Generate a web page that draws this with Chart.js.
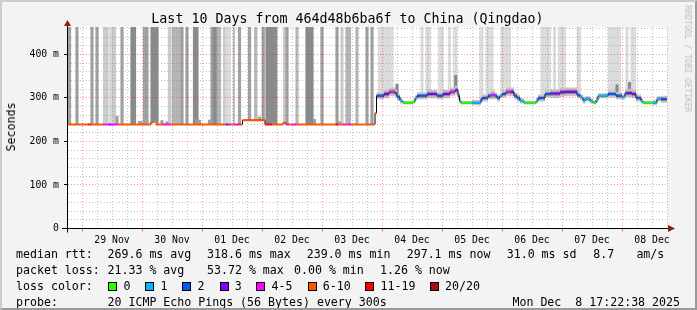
<!DOCTYPE html>
<html>
<head>
<meta charset="utf-8">
<script src="https://cdn.jsdelivr.net/npm/chart.js@4.4.1/dist/chart.umd.min.js"></script>
<style>
  body { margin: 0; background: #f3f3f3; }
  #wrap { position: relative; width: 697px; height: 310px; background: #f3f3f3; font-family: 'DejaVu Sans Mono', monospace; color: #000; overflow: hidden; }
  #wrap canvas { position: absolute; left: 0; top: 0; }
  #frame { position: absolute; left: 0; top: 0; width: 697px; height: 310px; box-sizing: border-box; border: 2px solid; border-color: #cccccc #999999 #999999 #cccccc; pointer-events: none; }
  .t { position: absolute; white-space: pre; font-size: 11.6px; line-height: 14px; }
  .box { position: absolute; width: 7px; height: 7px; border: 1px solid #000; }
  #title { position: absolute; left: -1px; width: 697px; top: 11px; text-align: center; font-size: 13.3px; line-height: 15px; white-space: pre; }
  #ylabel { position: absolute; left: 11px; top: 127px; transform: translate(-50%, -50%) rotate(-90deg); font-size: 11.6px; white-space: pre; }
  #rrd { position: absolute; left: 688px; top: 59px; transform: translate(-50%, -50%) rotate(90deg); font-size: 8.1px; color: #bdbdbd; white-space: pre; }
</style>
</head>
<body>
<div id="wrap">
  <canvas id="smokeChart" width="697" height="310"></canvas>
  <div id="title">Last 10 Days from 464d48b6ba6f to China (Qingdao)</div>
  <div id="ylabel">Seconds</div>
  <div id="rrd">RRDTOOL / TOBI OETIKER</div>

  <div class="t" style="left:16px;top:247px">median rtt:</div>
  <div class="t" style="left:107.5px;top:247px">269.6 ms avg</div>
  <div class="t" style="left:207px;top:247px">318.6 ms max</div>
  <div class="t" style="left:306.7px;top:247px">239.0 ms min</div>
  <div class="t" style="left:406.7px;top:247px">297.1 ms now</div>
  <div class="t" style="left:506.7px;top:247px">31.0 ms sd</div>
  <div class="t" style="left:593.3px;top:247px">8.7</div>
  <div class="t" style="left:636.4px;top:247px">am/s</div>

  <div class="t" style="left:16px;top:263px">packet loss:</div>
  <div class="t" style="left:107.5px;top:263px">21.33 % avg</div>
  <div class="t" style="left:207px;top:263px">53.72 % max</div>
  <div class="t" style="left:294px;top:263px">0.00 % min</div>
  <div class="t" style="left:380px;top:263px">1.26 % now</div>

  <div class="t" style="left:16px;top:279px">loss color:</div>
  <div id="lossLegend"></div>

  <div class="t" style="left:16px;top:295px">probe:</div>
  <div class="t" style="left:107.5px;top:295px">20 ICMP Echo Pings (56 Bytes) every 300s</div>
  <div class="t" style="right:17px;top:295px">Mon Dec  8 17:22:38 2025</div>
  <div id="frame"></div>
</div>
<script>
// --- eixo e rótulos ---
const yMax = 463;                 // topo do gráfico em ms
const dayLabels = ['29 Nov', '30 Nov', '01 Dec', '02 Dec', '03 Dec', '04 Dec', '05 Dec', '06 Dec', '07 Dec', '08 Dec'];
const lossLabels = ['0', '1', '2', '3', '4-5', '6-10', '11-19', '20/20'];
const lossColors = ['#26ff00', '#00b8ff', '#0059ff', '#7e00ff', '#ff00ff', '#ff5500', '#ff0000', '#a01010'];

// --- mediana (horas desde 28 Nov 18:00, ms, pings perdidos de 20, largura da fumaça em ms) ---
const medHour = [0, 8.4, 9.6, 14.4, 16.8, 17.6, 20.4, 33.6, 34.8, 35.6, 38.4, 41.2, 63.6, 64.6, 65.6, 66.8, 68, 68.6, 69.4, 70.2,
  79.2, 82, 86.4, 87.6, 88.8, 90, 91.6, 107.6, 108.4, 110.4, 111.6, 112.4, 113.6, 123.2, 123.8, 126.8, 128.8, 131.2, 132, 133.2,
  134.4, 138.4, 139.2, 140, 144, 148, 150.4, 153.2, 155.2, 156.4, 157, 157.6, 162, 165.6, 166.4, 168.4, 169.6, 171.2, 172, 173.2,
  174, 175.6, 177.6, 178.8, 180, 181.2, 182.8, 187.6, 188.4, 191.2, 193.2, 197.2, 199.2, 204, 205.2, 206.4, 207.2, 209.2, 210.4, 211.6,
  212.4, 216.4, 219.6, 222, 223.2, 224, 226, 227.6, 229.6, 230.4, 234.4, 236, 237.6, 240];
const medRtt = [239, 239, 239, 239, 239, 239, 239, 244, null, 239, 239, 239, 239, 239, 239, 239, 239, 239, 239, 249,
  239, 239, 243, 239, 239, 239, 239, 239, 239, 239, 239, 239, 239, 265, 305, 309, 314, 311, 302, 293,
  289, 291, 300, 305, 309, 305, 309, 314, 318, 305, 293, 289, 289, 298, 300, 305, 307, 305, 300, 305,
  309, 314, 314, 305, 300, 293, 289, 293, 300, 309, 310, 313, 314, 307, 302, 293, 298, 293, 289, 295,
  305, 309, 305, 302, 311, 311, 309, 300, 293, 289, 289, 298, 297, 297];
const medLoss = [8, 12, 8, 5, 3, 5, 8, 8, 8, 8, 5, 8, 3, 5, 8, 5, 12, 5, 8, 8,
  12, 8, 8, 5, 8, 5, 8, 12, 8, 5, 8, 5, 8, 8, 2, 3, 5, 2, 2, 1,
  0, 0, 1, 2, 3, 2, 3, 5, 3, 2, 1, 0, 1, 2, 2, 2, 5, 2, 2, 1,
  2, 5, 3, 2, 2, 1, 0, 1, 2, 2, 3, 3, 3, 2, 1, 1, 1, 1, 0, 1,
  1, 2, 2, 1, 2, 3, 3, 2, 1, 0, 1, 1, 2, 2];
const medSmoke = [0, 0, 0, 0, 0, 0, 0, 0, 0, 0, 0, 0, 0, 0, 0, 0, 0, 0, 0, 0,
  0, 0, 0, 0, 0, 0, 0, 0, 0, 0, 0, 0, 0, 0, 8, 10, 10, 8, 8, 6,
  4, 4, 6, 8, 10, 8, 10, 10, 10, 8, 6, 4, 6, 8, 8, 8, 10, 8, 8, 6,
  8, 10, 10, 8, 8, 6, 4, 6, 8, 8, 10, 10, 10, 8, 6, 6, 6, 6, 4, 6,
  6, 8, 8, 6, 8, 10, 10, 8, 6, 4, 6, 6, 8, 8];

// --- barras de fumaça até o topo (horas de/até, densidade 1 = escura ... 5 = clara) ---
const tallFrom = [0.1, 3.6, 9.6, 11.6, 14.3, 16.3, 17.9, 21.6, 25.6, 30.3, 33.6, 40.4, 42, 45.6, 47.6, 50.4, 57.6, 58.4, 60, 62.4,
  63.6, 66.4, 68.4, 72.4, 75.2, 78, 79.6, 86.4, 87.6, 91.6, 95.6, 101.6, 107.6, 109.6, 111.6, 115.6, 119.6, 121.6,
  124.3, 141.6, 143.6, 148.4, 152.4, 154.4, 165.2, 167.6, 173.6, 189.6, 194.4, 196.4, 204, 216.4, 223.6, 225.6];
const tallTo = [1.5, 4.4, 10.4, 12.4, 16.3, 17.9, 19.5, 22.4, 27.6, 32.5, 36.4, 41.6, 45.6, 46.4, 48.4, 52.4, 58.4, 60, 61.6, 63.6,
  65.6, 67.2, 69.6, 73.6, 76, 78.8, 84, 87.6, 88.4, 92.4, 98.4, 102.4, 108.4, 110.4, 113.6, 116.4, 120.4, 122.4,
  130.4, 142.4, 145.6, 150.4, 153.6, 156, 166.4, 170.4, 177.6, 193.6, 195.6, 199.6, 205.6, 221.6, 224.4, 227.6];
const tallLevel = [2, 2, 2, 2, 4, 5, 4, 2, 1, 2, 1, 4, 3, 2, 2, 1, 2, 1, 3, 4,
  5, 3, 2, 2, 3, 2, 1, 4, 2, 3, 1, 2, 2, 4, 3, 3, 2, 2,
  5, 5, 5, 5, 5, 5, 5, 5, 5, 5, 5, 5, 5, 5, 5, 5];

// --- picos curtos acima da mediana (horas de/até, topo em ms) ---
const peakFrom = [19.5, 28.4, 31.2, 37.5, 39.6, 51.6, 56.4, 76.4, 98.4, 108.4, 131.6, 155.2, 219.6, 224.4];
const peakTo = [20.5, 30, 32.4, 38.4, 40.4, 53.6, 57.6, 77.6, 99.6, 109.6, 132.4, 156, 220.4, 225.6];
const peakTop = [258, 246, 247, 248, 245, 249, 249, 256, 251, 245, 332, 352, 330, 336];

const smokeGrays = ['#8a8a8a', '#a0a0a0', '#b5b5b5', '#cbcbcb', '#dcdcdc'];

function lossClass(n) {
    if (n <= 3) return n;
    if (n <= 5) return 4;
    if (n <= 10) return 5;
    if (n <= 19) return 6;
    return 7;
}

function medAt(h) {
    let v = medRtt[0];
    for (let i = 0; i < medHour.length; i++) {
        if (medHour[i] > h) break;
        if (medRtt[i] !== null) v = medRtt[i];
    }
    return v;
}

// fatias de meia hora para as barras flutuantes
function buildSlots(from, to, top, extra) {
    const out = [];
    for (let k = 0; k < from.length; k++) {
        for (let c = Math.ceil((from[k] - 0.25) / 0.5) * 0.5 + 0.25; c < to[k]; c += 0.5) {
            out.push({ x: c, y: [medAt(c), top(k)], lvl: extra(k) });
        }
    }
    return out;
}

const tallData = buildSlots(tallFrom, tallTo, () => yMax, k => tallLevel[k]);
const peakData = buildSlots(peakFrom, peakTo, k => peakTop[k], k => (peakTop[k] > 300 ? 1 : 2));

const bandIdx = medHour.map((h, i) => i).filter(i => medSmoke[i] > 0);
bandIdx.push(medHour.length - 1);
const band = (f) => bandIdx.map(i => ({ x: medHour[i], y: medRtt[i] + f * medSmoke[i] }));

const stepPts = medHour.map((h, i) => ({ x: h, y: medRtt[i] }));
const segPts = [];
for (let i = 0; i < medHour.length - 1; i++) {
    segPts.push({ x: medHour[i], y: medRtt[i] }, { x: medHour[i + 1], y: medRtt[i] }, { x: medHour[i + 1], y: null });
}

// legenda de cores de perda
const legend = document.getElementById('lossLegend');
const boxX = [108.4, 145.3, 182.2, 219.5, 256.4, 307.5, 365.3, 429.8];
lossLabels.forEach((lab, i) => {
    const b = document.createElement('div');
    b.className = 'box';
    b.style.left = boxX[i] + 'px';
    b.style.top = '281.5px';
    b.style.background = lossColors[i];
    legend.appendChild(b);
    const t = document.createElement('div');
    t.className = 't';
    t.style.left = (boxX[i] + 15.2) + 'px';
    t.style.top = '279px';
    t.textContent = lab;
    legend.appendChild(t);
});

const plotBackground = {
    id: 'plotBackground',
    beforeDraw(chart) {
        const { ctx, chartArea: a } = chart;
        ctx.save();
        ctx.fillStyle = '#ffffff';
        ctx.fillRect(a.left, a.top, a.right - a.left, a.bottom - a.top);
        ctx.restore();
    }
};

const axisArrows = {
    id: 'axisArrows',
    afterDraw(chart) {
        const { ctx, chartArea: a } = chart;
        const y0 = Math.round(a.bottom - 0.5) + 0.5;
        const x0 = Math.round(a.left - 0.5) + 0.5;
        ctx.save();
        ctx.strokeStyle = '#000';
        ctx.lineWidth = 1;
        ctx.beginPath();
        ctx.moveTo(a.left - 5, y0); ctx.lineTo(a.right + 3, y0);
        ctx.moveTo(x0, a.bottom + 4); ctx.lineTo(x0, a.top - 3);
        ctx.stroke();
        ctx.fillStyle = '#8b1c1c';
        ctx.beginPath();
        ctx.moveTo(a.right + 1, y0 - 3.5); ctx.lineTo(a.right + 8, y0); ctx.lineTo(a.right + 1, y0 + 3.5); ctx.closePath();
        ctx.fill();
        ctx.beginPath();
        ctx.moveTo(x0 - 3.5, a.top - 1); ctx.lineTo(x0, a.top - 7); ctx.lineTo(x0 + 3.5, a.top - 1); ctx.closePath();
        ctx.fill();
        ctx.restore();
    }
};

const tickFont = { family: 'DejaVu Sans Mono', size: 9.8 };

new Chart(document.getElementById('smokeChart'), {
    type: 'bar',
    data: {
        datasets: [
            {
                type: 'line', data: segPts, order: 1, borderWidth: 2, pointRadius: 0, spanGaps: false,
                borderColor: lossColors[5],
                segment: { borderColor: c => lossColors[lossClass(medLoss[Math.floor(c.p0DataIndex / 3)])] }
            },
            { type: 'line', data: stepPts, order: 2, stepped: 'before', borderColor: '#000', borderWidth: 1, pointRadius: 0 },
            { type: 'line', data: band(0.5), order: 6, stepped: 'before', borderWidth: 0, pointRadius: 0, fill: '+1', backgroundColor: '#8e8e8e' },
            { type: 'line', data: band(-0.5), order: 6, stepped: 'before', borderWidth: 0, pointRadius: 0, fill: false },
            { type: 'line', data: band(1), order: 7, stepped: 'before', borderWidth: 0, pointRadius: 0, fill: '+1', backgroundColor: '#c6c6c6' },
            { type: 'line', data: band(-1), order: 7, stepped: 'before', borderWidth: 0, pointRadius: 0, fill: false },
            { data: peakData, order: 9, backgroundColor: c => smokeGrays[c.raw.lvl - 1] },
            { data: tallData, order: 10, backgroundColor: c => smokeGrays[c.raw.lvl - 1] }
        ]
    },
    options: {
        responsive: false,
        animation: false,
        events: [],
        layout: { padding: { left: 0, right: 30, top: 27, bottom: 61.5 } },
        datasets: { bar: { barPercentage: 1, categoryPercentage: 1, grouped: false, borderWidth: 0, clip: 0 } },
        plugins: { legend: { display: false }, tooltip: { enabled: false } },
        scales: {
            x: {
                type: 'linear', min: 0, max: 240, offset: false,
                afterFit: s => { s.height = 20; },
                ticks: {
                    stepSize: 6, autoSkip: false, maxRotation: 0, padding: 3, color: '#000', font: tickFont,
                    callback: v => (v % 24 === 18 ? dayLabels[(v - 18) / 24] : '')
                },
                grid: {
                    offset: false, z: 1, tickLength: 3,
                    color: c => (c.tick.value % 24 === 6 ? 'rgba(255,0,0,0.42)' : 'rgba(130,130,130,0.5)'),
                    tickColor: c => (c.tick.value % 24 === 6 ? 'rgba(255,0,0,0.6)' : 'transparent')
                },
                border: { color: '#000', dash: [1, 2], z: 2 }
            },
            y: {
                min: 0, max: yMax,
                afterFit: s => { s.width = 67; },
                ticks: {
                    stepSize: 20, includeBounds: false, autoSkip: false, padding: 5, color: '#000', font: tickFont,
                    callback: v => (v % 100 === 0 ? (v === 0 ? '0' : v + ' m') : '')
                },
                grid: {
                    z: 1, tickLength: 3,
                    color: c => (c.tick.value % 100 === 0 ? 'rgba(255,0,0,0.42)' : 'rgba(130,130,130,0.5)'),
                    tickColor: c => (c.tick.value % 100 === 0 ? '#000' : 'transparent')
                },
                border: { color: '#000', dash: [1, 2], z: 2 }
            }
        }
    },
    plugins: [plotBackground, axisArrows]
});
</script>
</body>
</html>
